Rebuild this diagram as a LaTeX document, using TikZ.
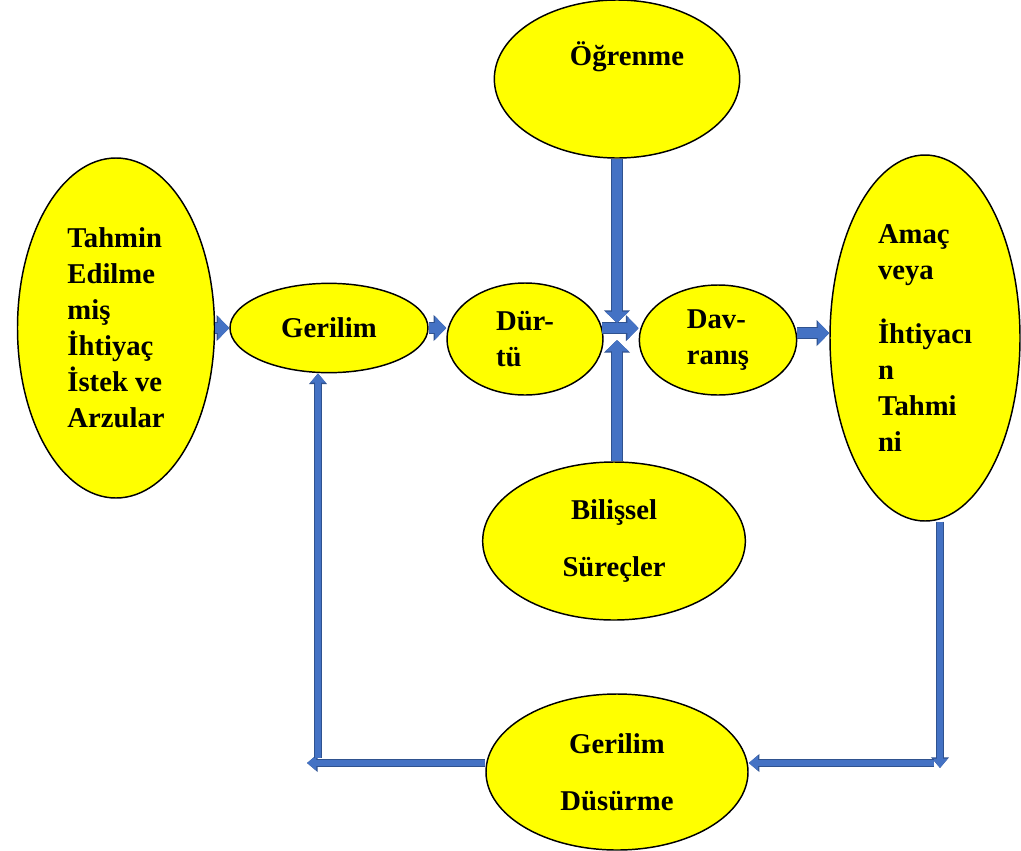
\documentclass[tikz,border=0pt]{standalone}
\usepackage{fontspec}
\setmainfont{Liberation Serif}
\usetikzlibrary{shapes.geometric,arrows.meta}
\definecolor{sari}{HTML}{FFFF00}
\definecolor{okmavi}{HTML}{4472C4}
\definecolor{okkenar}{HTML}{2F528F}
\begin{document}
\begin{tikzpicture}[x=0.75pt,y=-0.75pt,
    balon/.style={ellipse, draw=black, line width=1.1pt, fill=sari, inner sep=0pt, align=left,
      font=\bfseries\fontsize{21.5}{27}\selectfont},
    ok/.style={draw=okmavi, line width=7.5pt, -{Triangle[width=17pt,length=8.5pt]},
      preaction={draw=okkenar, line width=9pt, -{Triangle[width=19pt,length=9.5pt]}}},
    okince/.style={draw=okmavi, line width=5pt, -{Triangle[width=11pt,length=7pt]},
      preaction={draw=okkenar, line width=6.5pt, -{Triangle[width=13pt,length=8pt]}}}]
  \useasboundingbox (0,0) rectangle (1021,850);
  % balonlar
  \node[balon, minimum width=147.75pt, minimum height=255pt] (tahmin) at (116,328) {Tahmin\\Edilme\\miş\\İhtiyaç\\İstek ve\\Arzular};
  \node[balon, minimum width=148.5pt, minimum height=67pt] (gerilim) at (329,328) {Gerilim};
  \node[balon, minimum width=117pt, minimum height=84pt] (durtu) at (525,339) {Dür-\\tü};
  \node[balon, minimum width=184pt, minimum height=118.5pt, text height=15pt, text depth=36pt] (ogrenme) at (617,79) {\hspace*{15pt}Öğrenme};
  \node[balon, minimum width=118pt, minimum height=82.5pt] (davranis) at (718,340) {Dav-\\ranış};
  \node[balon, minimum width=142.5pt, minimum height=274.5pt] (amac) at (925,338) {Amaç\\veya\\[21pt]İhtiyacı\\n\\Tahmi\\ni};
  \node[balon, align=center, minimum width=197pt, minimum height=118.5pt] (bilissel) at (614,541) {Bilişsel\\[16pt]Süreçler};
  \node[balon, align=center, minimum width=196.5pt, minimum height=117pt] (dusurme) at (617,772) {Gerilim\\[16pt]Düsürme};
  % koseler
  \coordinate (c1) at (617,323);
  \coordinate (c2) at (617,340);
  \coordinate (c3) at (940,768);
  \coordinate (c4) at (934,763);
  \coordinate (c5) at (307,763);
  \coordinate (c6) at (318,758);
  % oklar
  \draw[ok] (tahmin.east) -- (gerilim.west);
  \draw[ok] (gerilim.east) -- (durtu.west |- gerilim.east);
  \draw[ok] (durtu.8) -- (durtu.8 -| davranis.west);
  \draw[ok] (davranis.5) -- (davranis.5 -| amac.west);
  \draw[ok] (ogrenme.south) -- (c1);
  \draw[ok] (c2 |- bilissel.north) -- (c2);
  \draw[okince] (c3 |- amac.south) -- (c3);
  \draw[okince] (c4) -- (c4 -| dusurme.east);
  \draw[okince] (dusurme.west |- c5) -- (c5);
  \draw[okince] (c6) -- (c6 |- gerilim.south);
\end{tikzpicture}
\end{document}
